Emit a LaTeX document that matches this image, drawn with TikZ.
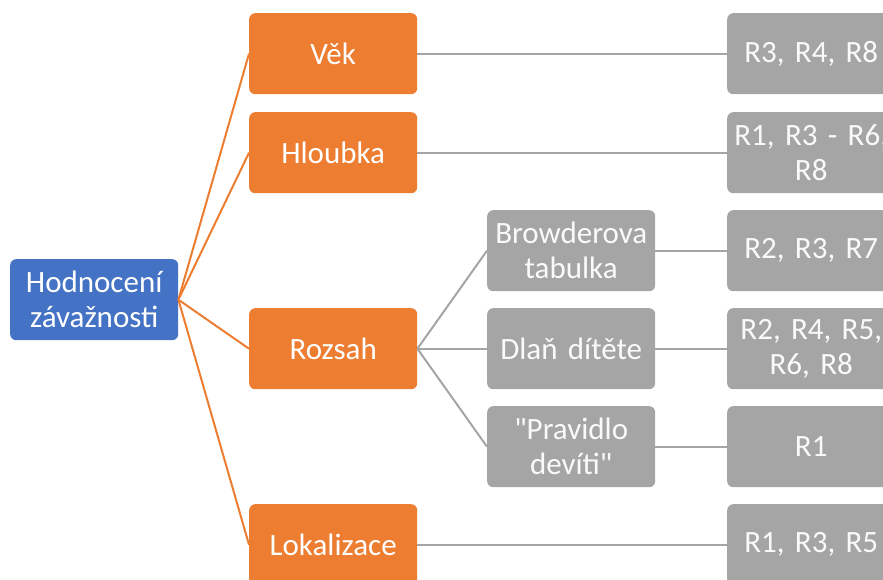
\documentclass[tikz,border=0pt]{standalone}
\usepackage{fontspec}
\setmainfont{Carlito}
% Carlito without the TeX mapping, for straight double quotes
\font\straightq="Carlito" at 31pt
\newcommand{\sq}{{\straightq\char34}}
\newcommand{\boxfont}{\fontsize{31}{35}\selectfont}
\definecolor{rootblue}{HTML}{4472C4}
\definecolor{branchorange}{HTML}{ED7D31}
\definecolor{leafgray}{HTML}{A5A5A5}
\definecolor{linegray}{HTML}{A5A5A5}
\begin{document}
\begin{tikzpicture}[x=1pt,y=-1pt,
  box/.style={rounded corners=6pt, minimum width=168pt, minimum height=81pt,
    text width=166pt, text=white, align=center, anchor=north west,
    font=\boxfont, inner sep=0pt},
  rootbox/.style={box, fill=rootblue},
  branchbox/.style={box, fill=branchorange},
  leafbox/.style={box, fill=leafgray, text=white!96!gray},
  orangelink/.style={draw=branchorange, line width=2pt},
  graylink/.style={draw=linegray, line width=2pt}
]
\useasboundingbox (0,0) rectangle (883,580);
\clip (0,0) rectangle (883,580);

% root
\node[rootbox] (root) at (10,259) {Hodnocení\\závažnosti};

% first level
\node[branchbox] (vek) at (249,13) {Věk};
\node[branchbox] (hloubka) at (249,112) {Hloubka};
\node[branchbox] (rozsah) at (249,308) {Rozsah};
\node[branchbox] (lokalizace) at (249,504) {Lokalizace};

% methods for extent
\node[leafbox] (browder) at (487,210) {Browderova\\tabulka};
\node[leafbox] (dlan) at (487,308) {Dlaň dítěte};
\node[leafbox] (devitka) at (487,406) {\sq Pravidlo\\devíti\sq};

% references
\node[leafbox] (r1) at (727,13) {R3, R4, R8};
\node[leafbox] (r2) at (727,112) {R1, R3 - R6,\hspace*{10pt}\\R8};
\node[leafbox] (r3) at (727,210) {R2, R3, R7};
\node[leafbox] (r4) at (727,308) {R2, R4, R5,\\R6, R8};
\node[leafbox] (r5) at (727,406) {R1};
\node[leafbox] (r6) at (727,504) {R1, R3, R5};

% connectors
\foreach \b in {vek,hloubka,rozsah,lokalizace}
  \draw[orangelink] (root.east) -- (\b.west);
\foreach \m in {browder,dlan,devitka}
  \draw[graylink] (rozsah.east) -- (\m.west);
\draw[graylink] (vek.east) -- (r1.west);
\draw[graylink] (hloubka.east) -- (r2.west);
\draw[graylink] (browder.east) -- (r3.west);
\draw[graylink] (dlan.east) -- (r4.west);
\draw[graylink] (devitka.east) -- (r5.west);
\draw[graylink] (lokalizace.east) -- (r6.west);
\end{tikzpicture}
\end{document}
